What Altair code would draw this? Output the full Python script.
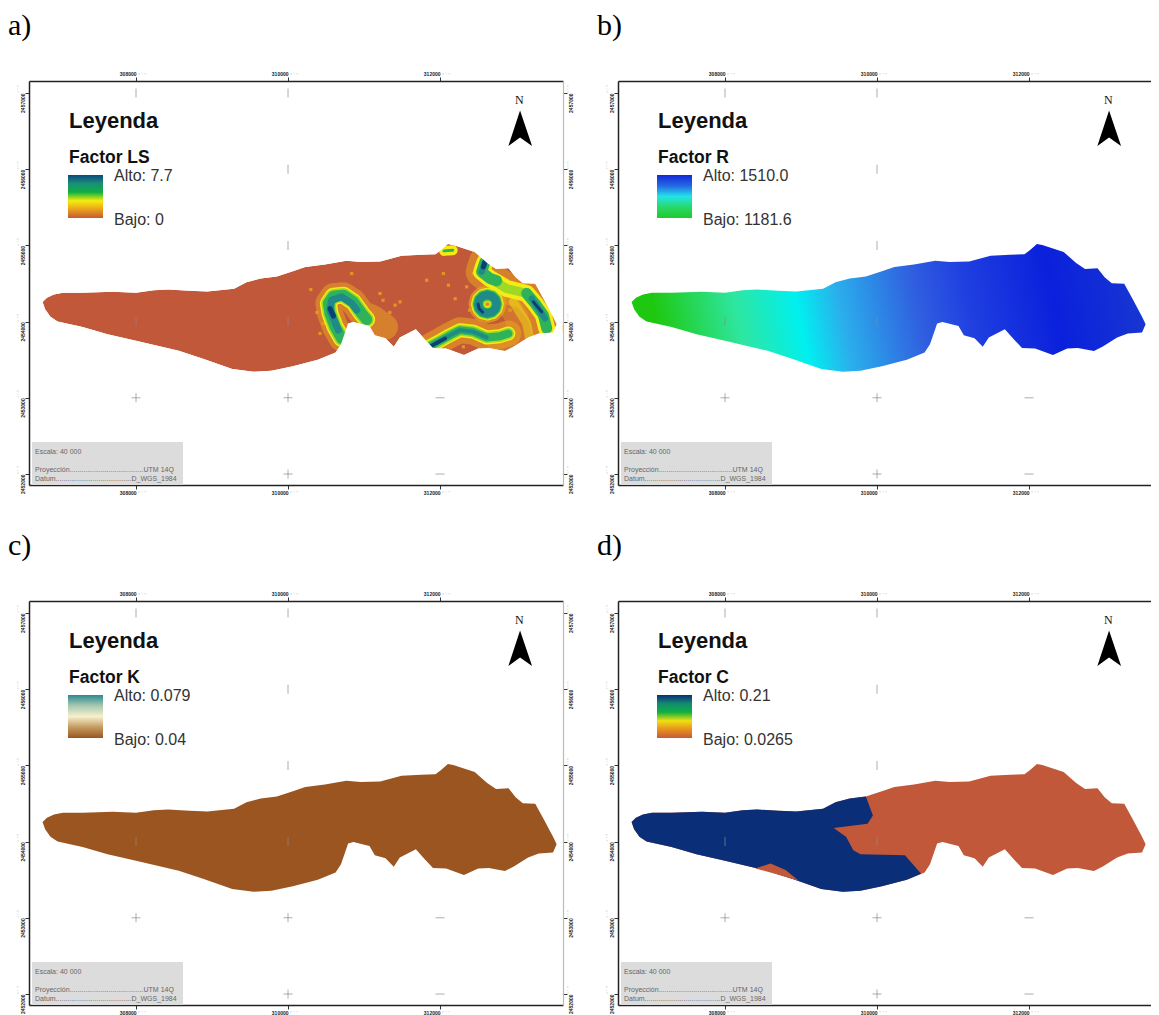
import altair as alt
import pandas as pd

# ---- map geometry, easting / northing in metres ----
upper_e = [306771,306828,306921,307039,307297,307695,308000,308234,308422,308703,308938,309290,309454,309641,309853,310064,310228,310486,310767,310955,311213,311494,311752,311940,312010,312104,312174,312456,312620,312737,312901,312995,313089,313253,313370,313487,313534]
upper_n = [2454257,2454313,2454357,2454378,2454378,2454391,2454378,2454413,2454422,2454404,2454396,2454430,2454517,2454565,2454591,2454661,2454717,2454748,2454800,2454783,2454787,2454865,2454878,2454883,2454935,2455017,2455004,2454913,2454770,2454691,2454700,2454583,2454504,2454496,2454283,2454065,2453965]
lower_e = [306804,306874,306968,307297,307625,308000,308563,308891,309266,309548,309782,310064,310392,310626,310697,310791,310861,311072,311142,311283,311391,311471,311682,311799,311907,312080,312315,312502,312643,312854,312971,313159,313300,313487]
lower_n = [2454161,2454065,2454000,2453930,2453835,2453748,2453617,2453509,2453378,2453343,2453356,2453413,2453500,2453596,2453704,2453974,2453996,2453943,2453822,2453783,2453670,2453791,2453900,2453770,2453652,2453648,2453561,2453648,2453652,2453613,2453674,2453791,2453843,2453857]

divide_e = [309946,309876,309430,309595,309688,309782,310368,310580]
divide_n = [2454343,2454235,2454178,2454061,2453887,2453835,2453822,2453577]
sliver_e = [308399,308600,308797,308971,308563]
sliver_n = [2453648,2453713,2453626,2453487,2453604]
arrow_e = [313053,312899,313053,313211]
arrow_n = [2456770,2456303,2456417,2456303]

# LS factor ridges
cres_e = [310706,310619,310553,310531,310597,310728,310860,310969,311035]
cres_n = [2453779,2453932,2454106,2454238,2454334,2454347,2454259,2454106,2454028]
cres_halo_e = [310706,310619,310553,310531,310597,310728,310860,310969,311101,311276]
cres_halo_n = [2453779,2453932,2454106,2454238,2454334,2454347,2454259,2454106,2454054,2453932]
cres_core_e = [310662,310597,310553,310575,310706,310838,310904]
cres_core_n = [2453888,2454041,2454150,2454281,2454325,2454238,2454150]
cres_dark_e = [310553,310597]
cres_dark_n = [2454172,2454072]
ring_e = [312746,312730,312685,312623,312561,312516,312500,312516,312561,312623,312685,312730,312746]
ring_n = [2454229,2454290,2454335,2454351,2454335,2454290,2454229,2454168,2454123,2454107,2454123,2454168,2454229]
ring_dark_e = [312500,312516,312561]
ring_dark_n = [2454229,2454168,2454123]
low_e = [311869,312000,312132,312263,312439,312614,312790,312899]
low_n = [2453678,2453748,2453822,2453888,2453866,2453792,2453809,2453844]
low_core_e = [311869,312000,312132,312263,312439,312614]
low_core_n = [2453678,2453748,2453822,2453888,2453866,2453792]
low_dark_e = [311877,312066]
low_dark_n = [2453678,2453778]
ne_e = [312592,312548,312658,312877,313140,313250,313360,313404]
ne_n = [2454784,2454653,2454565,2454434,2454369,2454238,2454085,2453910]
ne_green1_e = [312592,312548,312658,312746]
ne_green1_n = [2454784,2454653,2454565,2454535]
ne_green2_e = [313140,313250,313360,313404]
ne_green2_n = [2454369,2454238,2454085,2453910]
ne_core1_e = [312592,312548]
ne_core1_n = [2454784,2454653]
ne_core2_e = [313206,313382]
ne_core2_n = [2454303,2454041]
ne_dark1_e = [312592,312570]
ne_dark1_n = [2454784,2454718]
ne_dark2_e = [313228,313338]
ne_dark2_n = [2454259,2454128]
blob_e = [312053,312167]
blob_n = [2454928,2454937]
sw_e = [312877,313009,313053,312790]
sw_n = [2454281,2454063,2453801,2453691]
sy_e = [312965,313140,313184]
sy_n = [2454259,2453975,2453757]
speck_e = [310838,312351,312044,311408,312110,311825,311211,311474,310465,310421,312307,312439,312921,311250,311340,312200,312390,310300,310380]
speck_n = [2454631,2454456,2454631,2454216,2454478,2454543,2454369,2454259,2453975,2453844,2453669,2454631,2454150,2454280,2454120,2454300,2454150,2454420,2454120]

x_ticks = [308000, 310000, 312000]
y_ticks = [2452000, 2453000, 2454000, 2455000, 2456000, 2457000]
# faint graticule marks left inside the frame
vert_e = [308000, 310000, 308000, 310000, 310000, 310000, 308000, 310000, 310000]
vert_n = [2457000, 2457000, 2454000, 2454000, 2455000, 2456000, 2453000, 2453000, 2452000]
horiz_e = [308000, 310000, 312000, 310000, 312000]
horiz_n = [2453000, 2453000, 2453000, 2452000, 2452000]

panels = ["a)", "b)", "c)", "d)"]
factors = ["Factor LS", "Factor R", "Factor K", "Factor C"]
altos = ["Alto: 7.7", "Alto: 1510.0", "Alto: 0.079", "Alto: 0.21"]
bajos = ["Bajo: 0", "Bajo: 1181.6", "Bajo: 0.04", "Bajo: 0.0265"]
ramps = [
    ["#0c4a80", "#1a8f78", "#0fb040", "#f6ee0c", "#e9a01f", "#c65a32"],
    ["#1428d8", "#2468e4", "#22e4e8", "#28d868", "#1fc92c"],
    ["#2a8a92", "#a8c8b0", "#f6f0cc", "#c49a60", "#9a5520"],
    ["#0b2f78", "#148a70", "#10b040", "#f0e010", "#e8901f", "#c65a38"],
]
X_DOM = [306592, 313618]
Y_DOM = [2451856, 2457157]
W, H = 534, 404
RED, BROWN, NAVY = "#c1583a", "#9a5520", "#0b2e78"

x_s = alt.Scale(domain=X_DOM, nice=False, zero=False)
y_s = alt.Scale(domain=Y_DOM, nice=False, zero=False)
X0 = alt.X("e:Q", scale=x_s, axis=None)
Y0 = alt.Y("n:Q", scale=y_s, axis=None)

def table(es, ns):
    return pd.DataFrame({"e": es, "n": ns, "i": range(len(es))})

def polygon(es, ns, fill):
    return alt.Chart(table(es, ns)).mark_line(
        fill=fill, filled=True, strokeOpacity=0, clip=True
    ).encode(x=X0, y=Y0, order="i:Q")

def stroke(es, ns, color, width, opacity=1.0):
    return alt.Chart(table(es, ns)).mark_line(
        color=color, strokeWidth=width, strokeCap="round", strokeJoin="round", opacity=opacity
    ).encode(x=X0, y=Y0, order="i:Q")

def label(text, x, y, size, weight="normal", color="#111", font="Liberation Sans", **kw):
    return alt.Chart(pd.DataFrame({"t": [text]})).mark_text(
        align="left", baseline="alphabetic", fontSize=size, fontWeight=weight, color=color, font=font, **kw
    ).encode(text="t:N", x=alt.value(x), y=alt.value(y))

def grad(colors):
    n = len(colors) - 1
    return alt.Gradient(gradient="linear", x1=0, x2=0, y1=0, y2=1,
                        stops=[alt.GradientStop(color=c, offset=k / n) for k, c in enumerate(colors)])

outline_e = upper_e + lower_e[::-1]
outline_n = upper_n + lower_n[::-1]

AX = dict(title=None, grid=False, values=x_ticks, format="d", labelFontSize=5, labelFont="Liberation Sans",
          labelColor="#222", labelFontWeight="bold", tickSize=4, tickColor="#333", domainColor="#222", domainWidth=1.5,
          labelAlign="right", labelPadding=1, labelOverlap=False, labelFlush=False)
AY = dict(title=None, grid=False, values=y_ticks, format="d", labelFontSize=5, labelFont="Liberation Sans",
          labelColor="#222", labelFontWeight="bold", tickSize=4, tickColor="#333",
          labelAngle=270, labelAlign="right", labelBaseline="middle", labelPadding=3, labelOverlap=False, labelFlush=False)

def frame(k):
    xt = pd.DataFrame({"e": x_ticks})
    yt = pd.DataFrame({"n": y_ticks})
    bottom_left = alt.Chart(table(x_ticks[:2], y_ticks[:2])).mark_point(opacity=0).encode(
        x=alt.X("e:Q", scale=x_s, axis=alt.Axis(orient="bottom", **AX)),
        y=alt.Y("n:Q", scale=y_s, axis=alt.Axis(orient="left", domainColor="#222", domainWidth=1.5, **AY)),
    )
    top_right = alt.Chart(table(x_ticks[:2], y_ticks[:2])).mark_point(opacity=0).encode(
        x=alt.X("e:Q", scale=x_s, axis=alt.Axis(orient="top", **AX)),
        y=alt.Y("n:Q", scale=y_s, axis=alt.Axis(orient="right", domainColor="#bbbbbb", domainWidth=1.2, **AY)),
    )
    tail = dict(color="#c4c4c4", fontSize=5, text="° ' ''")
    tails = [
        alt.Chart(xt).mark_text(align="left", dx=2, **tail).encode(x=X0, y=alt.value(-6)),
        alt.Chart(xt).mark_text(align="left", dx=2, **tail).encode(x=X0, y=alt.value(H + 8)),
        alt.Chart(yt).mark_text(align="left", angle=270, dy=-2, **tail).encode(y=Y0, x=alt.value(-8)),
    ]
    if k % 2 == 0:
        tails.append(alt.Chart(yt).mark_text(align="left", angle=270, dy=-2, **tail).encode(y=Y0, x=alt.value(W + 8)))
    return [bottom_left, top_right] + tails

def furniture(k):
    vt = alt.Chart(table(vert_e, vert_n)).mark_tick(orient="vertical", size=9, thickness=1, color="#8a8a8a").encode(x=X0, y=Y0)
    ht = alt.Chart(table(horiz_e, horiz_n)).mark_tick(orient="horizontal", size=9, thickness=1, color="#8a8a8a").encode(x=X0, y=Y0)
    ramp = alt.Chart(pd.DataFrame({"a": [0]})).mark_rect(fill=grad(ramps[k])).encode(
        x=alt.value(39), x2=alt.value(74), y=alt.value(94), y2=alt.value(137))
    box = alt.Chart(pd.DataFrame({"a": [0]})).mark_rect(fill="#dcdcdc").encode(
        x=alt.value(3), x2=alt.value(154), y=alt.value(361), y2=alt.value(404))
    return [
        vt, ht, box, ramp,
        polygon(arrow_e, arrow_n, "#000000"),
        label("N", 486, 23, 12, font="Liberation Serif"),
        label(panels[k], -21, -46, 30, font="Liberation Serif", color="#000"),
        label("Leyenda", 40, 47, 22, "bold"),
        label(factors[k], 40, 82, 17.5, "bold"),
        label(altos[k], 85, 100, 16, color="#333"),
        label(bajos[k], 85, 144, 16, color="#333"),
        label("Escala: 40 000", 6, 373, 7, color="#666"),
        label("Proyección......................................UTM 14Q", 6, 391, 7, color="#666"),
        label("Datum.......................................D_WGS_1984", 6, 400, 7, color="#666"),
    ]

# ---- panel bodies ----
OR, YE, LI, GR, TE, NV = "#e8a020", "#f4ec14", "#9fd825", "#2eb25a", "#1f8a88", "#0c3f78"
mask_e = [upper_e[0]] + upper_e[1:] + lower_e[::-1] + [upper_e[0], 306650, 306650, 313610, 313610, 306650, 306650]
mask_n = [upper_n[0]] + upper_n[1:] + lower_n[::-1] + [upper_n[0], 2454257, 2453200, 2453200, 2455100, 2455100, 2454257]

specks = alt.Chart(table(speck_e, speck_n)).mark_point(
    filled=True, shape="square", size=10, color=OR, opacity=.85
).encode(x=X0, y=Y0)

ls_layers = [polygon(outline_e, outline_n, RED), specks]
ls_layers += [
    stroke(ne_e, ne_n, OR, 32, .55), stroke(low_e, low_n, OR, 26, .6), stroke(cres_halo_e, cres_halo_n, OR, 26, .55),
    stroke(sw_e, sw_n, OR, 24, .4), stroke(ring_e, ring_n, OR, 19, .7),
    stroke(sy_e, sy_n, YE, 9, .45),
    stroke(ne_e, ne_n, YE, 17), stroke(low_e, low_n, YE, 14), stroke(cres_e, cres_n, YE, 17), stroke(ring_e, ring_n, YE, 14),
    stroke(blob_e, blob_n, YE, 10),
    stroke(ne_e, ne_n, LI, 9), stroke(low_e, low_n, LI, 11), stroke(cres_e, cres_n, LI, 14), stroke(ring_e, ring_n, LI, 12),
    stroke(ne_green1_e, ne_green1_n, GR, 11), stroke(ne_green2_e, ne_green2_n, GR, 11), stroke(low_e, low_n, GR, 8), stroke(cres_e, cres_n, GR, 11), stroke(ring_e, ring_n, GR, 10),
    stroke(blob_e, blob_n, GR, 3),
    stroke(ne_core1_e, ne_core1_n, TE, 6), stroke(ne_core2_e, ne_core2_n, TE, 6), stroke(low_core_e, low_core_n, TE, 4), stroke(cres_core_e, cres_core_n, TE, 7), stroke(ring_e, ring_n, TE, 8),
    stroke(ne_dark1_e, ne_dark1_n, NV, 5), stroke(ne_dark2_e, ne_dark2_n, NV, 3), stroke(low_dark_e, low_dark_n, NV, 4), stroke(cres_dark_e, cres_dark_n, NV, 5), stroke(ring_dark_e, ring_dark_n, NV, 3),
    polygon(mask_e, mask_n, "#ffffff"),
]

r_grad = alt.Gradient(gradient="linear", x1=0, x2=1, y1=0.05, y2=0, stops=[
    alt.GradientStop(color="#1ec810", offset=0.02), alt.GradientStop(color="#2ee6a0", offset=0.18),
    alt.GradientStop(color="#00f0f0", offset=0.30), alt.GradientStop(color="#2ab0ec", offset=0.38),
    alt.GradientStop(color="#3060e0", offset=0.53), alt.GradientStop(color="#2040e0", offset=0.63),
    alt.GradientStop(color="#0a20dc", offset=0.80), alt.GradientStop(color="#1a3ad0", offset=1.0)])

k_upper = 14
c_blue_e = upper_e[:k_upper + 1] + divide_e + [e for e in lower_e[::-1] if e < 310580]
c_blue_n = upper_n[:k_upper + 1] + divide_n + [n for e, n in zip(lower_e[::-1], lower_n[::-1]) if e < 310580]

bodies = [
    ls_layers,
    [polygon(outline_e, outline_n, r_grad)],
    [polygon(outline_e, outline_n, BROWN)],
    [polygon(outline_e, outline_n, RED), polygon(c_blue_e, c_blue_n, NAVY), polygon(sliver_e, sliver_n, RED)],
]

def panel(k):
    f = frame(k)
    return alt.layer(f[0], f[1], *bodies[k], *furniture(k), *f[2:]).resolve_axis(
        x="independent", y="independent"
    ).properties(width=W, height=H)

chart = alt.concat(panel(0), panel(1), panel(2), panel(3), columns=2, spacing=alt.RowColnumber(column=55, row=116), bounds="flush").properties(
    padding={"left": 21, "top": 73, "right": 1122, "bottom": 934},
    autosize=alt.AutoSizeParams(type="none"),
).configure_view(stroke=None)

chart.save("out.html", embed_options={"renderer": "svg", "actions": False})
